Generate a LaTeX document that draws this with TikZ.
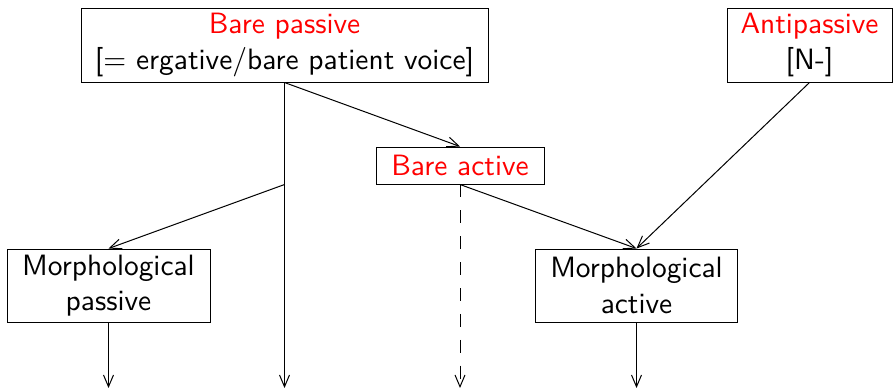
\documentclass[tikz,border=0pt]{standalone}
\usetikzlibrary{arrows.meta}
\renewcommand{\familydefault}{\sfdefault}
\begin{document}
\begin{tikzpicture}[x=0.34pt,y=-0.34pt,line width=0.34pt,
  box/.style={draw,align=center,inner sep=0pt,font=\sffamily},
  arr/.style={-{Straight Barb[length=4pt,width=3.4pt]}}]
\useasboundingbox (0,0) rectangle (893,387);
\node[box,minimum width=407*0.34pt,minimum height=74*0.34pt] (bp) at (284.5,45)
  {\textcolor{red}{Bare passive}\\{[}= ergative/bare patient voice{]}};
\node[box,minimum width=165*0.34pt,minimum height=74*0.34pt] (ap) at (809.5,45)
  {\textcolor{red}{Antipassive}\\{[}N-{]}};
\node[box,minimum width=168*0.34pt,minimum height=37*0.34pt] (ba) at (460,165.5)
  {\textcolor{red}{Bare active}};
\node[box,minimum width=203*0.34pt,minimum height=73*0.34pt] (mp) at (108.5,285.5)
  {Morphological\\passive};
\node[box,minimum width=202*0.34pt,minimum height=73*0.34pt] (ma) at (636.5,285.5)
  {Morphological\\active};
\coordinate (br) at (bp.south |- ba.south);
\coordinate (e1) at (mp.south |- 0,388);
\coordinate (e2) at (bp.south |- 0,388);
\coordinate (e3) at (ba.south |- 0,388);
\coordinate (e4) at (ma.south |- 0,388);
\draw[arr] (bp.south) -- (e2);
\draw[arr] (bp.south) -- (ba.north);
\draw[arr] (br) -- (mp.north);
\draw[arr,dash pattern=on 4.4pt off 4.4pt] (ba.south) -- (e3);
\draw[arr] (ba.south) -- (ma.north);
\draw[arr] (ap.south) -- (ma.north);
\draw[arr] (mp.south) -- (e1);
\draw[arr] (ma.south) -- (e4);
\end{tikzpicture}
\end{document}
